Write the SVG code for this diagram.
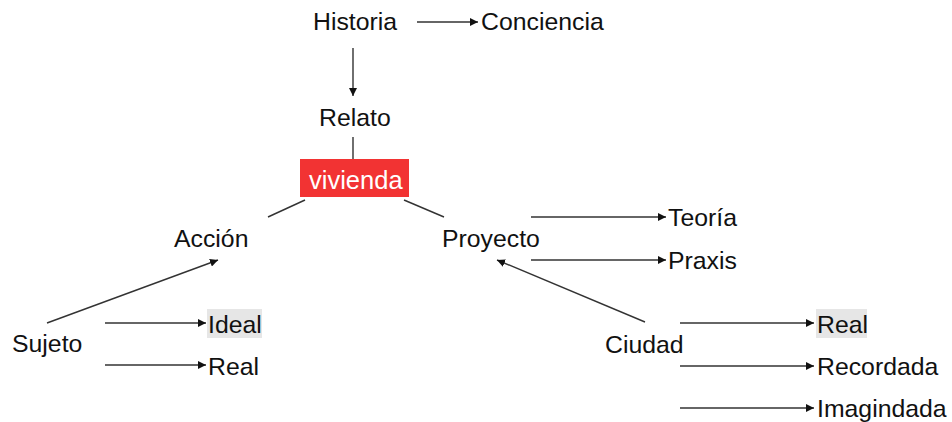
<svg xmlns="http://www.w3.org/2000/svg" width="952" height="422" viewBox="0 0 952 422">
<defs>
<marker id="ah" viewBox="0 0 10 10" refX="10" refY="5" markerWidth="8" markerHeight="8" markerUnits="userSpaceOnUse" orient="auto">
<path d="M0,0 L10,5 L0,10 z" fill="#111"/>
</marker>
<style>
text{font-family:"Liberation Sans",Arial,Helvetica,sans-serif;font-size:24.8px;fill:#111}
.c{stroke:#333;stroke-width:1.4;fill:none}
.a{marker-end:url(#ah)}
.hl{fill:#e6e6e6}
</style>
</defs>
<rect width="952" height="422" fill="#fff"/>
<g id="connectors">
<line class="c a" x1="417" y1="22" x2="478" y2="22"/>
<line class="c a" x1="353" y1="48" x2="353" y2="96"/>
<line class="c" x1="353" y1="137" x2="353" y2="159"/>
<line class="c" x1="305" y1="200" x2="268" y2="217"/>
<line class="c" x1="404" y1="200" x2="444" y2="217"/>
<line class="c a" x1="47" y1="323" x2="218" y2="260"/>
<line class="c a" x1="105" y1="323" x2="206" y2="323"/>
<line class="c a" x1="105" y1="365" x2="206" y2="365"/>
<line class="c a" x1="531" y1="217" x2="666" y2="217"/>
<line class="c a" x1="531" y1="260" x2="666" y2="260"/>
<line class="c a" x1="645" y1="322" x2="497" y2="260"/>
<line class="c a" x1="680" y1="323" x2="814" y2="323"/>
<line class="c a" x1="680" y1="366" x2="814" y2="366"/>
<line class="c a" x1="680" y1="408" x2="814" y2="408"/>
</g>
<g id="historia"><text x="313" y="30">Historia</text></g>
<g id="conciencia"><text x="481" y="30">Conciencia</text></g>
<g id="relato"><text x="319" y="126">Relato</text></g>
<g id="vivienda"><rect x="300" y="159" width="109" height="38" fill="#f23333"/><text x="309" y="189" style="fill:#fff;font-size:25.5px">vivienda</text></g>
<g id="accion"><text x="174" y="247">Acción</text></g>
<g id="proyecto"><text x="442" y="247">Proyecto</text></g>
<g id="sujeto"><text x="12" y="352">Sujeto</text></g>
<g id="ideal"><rect class="hl" x="207" y="309" width="55" height="29"/><text x="208" y="333">Ideal</text></g>
<g id="real1"><text x="208" y="375">Real</text></g>
<g id="teoria"><text x="668" y="226">Teoría</text></g>
<g id="praxis"><text x="668" y="269">Praxis</text></g>
<g id="ciudad"><text x="605" y="353">Ciudad</text></g>
<g id="real2"><rect class="hl" x="816" y="309" width="51" height="29"/><text x="817" y="333">Real</text></g>
<g id="recordada"><text x="817" y="375">Recordada</text></g>
<g id="imagindada"><text x="817" y="417">Imagindada</text></g>
</svg>
